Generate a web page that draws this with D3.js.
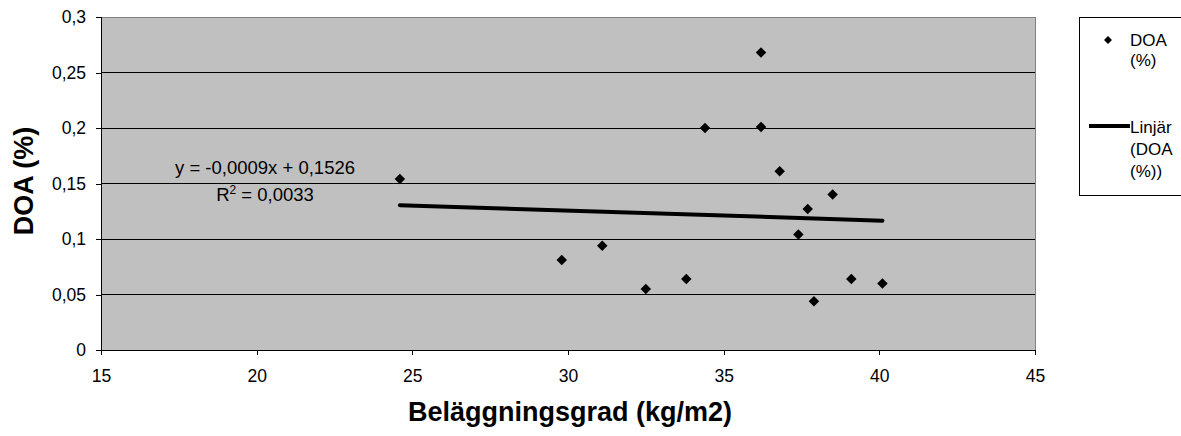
<!DOCTYPE html>
<html>
<head>
<meta charset="utf-8">
<script src="https://cdn.jsdelivr.net/npm/d3@7"></script>
<style>
  body { margin: 0; background: #fff; }
  svg text { font-family: "Liberation Sans", Arial, sans-serif; }
</style>
</head>
<body>
<svg width="1181" height="436"></svg>
<script>
// data
const xValues = [24.6, 29.8, 31.1, 32.5, 33.8, 34.4, 36.2, 36.2, 36.8, 37.4, 37.7, 37.9, 38.5, 39.1, 40.1];
const yValues = [0.154, 0.081, 0.094, 0.055, 0.064, 0.200, 0.268, 0.201, 0.161, 0.104, 0.127, 0.044, 0.140, 0.064, 0.060];
const xTicks = [15, 20, 25, 30, 35, 40, 45];
const yTicks = [0, 0.05, 0.1, 0.15, 0.2, 0.25, 0.3];
const slope = -0.0009, intercept = 0.1526;

var margin = {top: 17, left: 101},
    width = 934, height = 333;

var svg = d3.select("svg");
var g = svg.append("g").attr("transform", "translate(" + margin.left + "," + margin.top + ")");

var x = d3.scaleLinear().domain([15, 45]).range([0, width]);
var y = d3.scaleLinear().domain([0, 0.3]).range([height, 0]);
var fmt = d => d3.format("")(d).replace(".", ",");

// plot background
g.append("rect").attr("x", 0.5).attr("y", 0.5).attr("width", width).attr("height", height)
  .attr("fill", "#c0c0c0").attr("stroke", "#808080");

// gridlines
g.selectAll(".grid").data(yTicks.filter(d => d > 0 && d < 0.3)).enter()
  .append("line")
  .attr("x1", 0).attr("x2", width)
  .attr("y1", d => y(d)).attr("y2", d => y(d))
  .attr("stroke", "#000").attr("stroke-width", 1).attr("shape-rendering", "crispEdges");

// axes
var yAxis = g.append("g")
  .call(d3.axisLeft(y).tickValues(yTicks).tickFormat(fmt).tickSize(5).tickPadding(10));
var xAxis = g.append("g").attr("transform", "translate(0," + height + ")")
  .call(d3.axisBottom(x).tickValues(xTicks).tickSize(5).tickPadding(15));
[xAxis, yAxis].forEach(a => {
  a.select(".domain").attr("stroke", "#000").attr("shape-rendering", "crispEdges");
  a.selectAll(".tick line").attr("stroke", "#000").attr("shape-rendering", "crispEdges");
  a.selectAll("text").attr("font-size", 17.5).attr("fill", "#000")
    .attr("font-family", "'Liberation Sans', Arial, sans-serif");
});

// trend line
var x0 = d3.min(xValues), x1 = d3.max(xValues);
g.append("line")
  .attr("x1", x(x0)).attr("y1", y(slope * x0 + intercept))
  .attr("x2", x(x1)).attr("y2", y(slope * x1 + intercept))
  .attr("stroke", "#000").attr("stroke-width", 4).attr("stroke-linecap", "round");

// points
var diamond = d3.symbol().type(d3.symbolDiamond2).size(70);
g.selectAll(".pt").data(xValues).enter()
  .append("path")
  .attr("d", diamond)
  .attr("transform", (d, i) => "translate(" + x(d) + "," + y(yValues[i]) + ")")
  .attr("fill", "#000");

// equation
g.append("text").attr("x", 164).attr("y", 157)
  .attr("text-anchor", "middle").attr("font-size", 18.5)
  .text("y = -0,0009x + 0,1526");
var r2 = g.append("text").attr("x", 164).attr("y", 184)
  .attr("text-anchor", "middle").attr("font-size", 18.5);
r2.append("tspan").text("R");
r2.append("tspan").attr("dy", -7).attr("font-size", 12).text("2");
r2.append("tspan").attr("dy", 7).text(" = 0,0033");

// axis titles
svg.append("text").attr("x", 570).attr("y", 421)
  .attr("text-anchor", "middle").attr("font-size", 27).attr("font-weight", "bold")
  .text("Beläggningsgrad (kg/m2)");
svg.append("text").attr("transform", "translate(33,181) rotate(-90)")
  .attr("text-anchor", "middle").attr("font-size", 27).attr("font-weight", "bold")
  .text("DOA (%)");

// legend
var lg = svg.append("g");
lg.append("rect").attr("x", 1079.5).attr("y", 17.5).attr("width", 110).attr("height", 178)
  .attr("fill", "#fff").attr("stroke", "#000");
lg.append("path").attr("d", d3.symbol().type(d3.symbolDiamond2).size(40))
  .attr("transform", "translate(1108,40)").attr("fill", "#000");
lg.append("line").attr("x1", 1089).attr("x2", 1130).attr("y1", 126).attr("y2", 126)
  .attr("stroke", "#000").attr("stroke-width", 4);
var legendText = [["DOA", 46], ["(%)", 66], ["Linjär", 133], ["(DOA", 155], ["(%))", 177]];
lg.selectAll(".lt").data(legendText).enter()
  .append("text")
  .attr("x", 1130).attr("y", d => d[1])
  .attr("font-size", 17).text(d => d[0]);
</script>
</body>
</html>
